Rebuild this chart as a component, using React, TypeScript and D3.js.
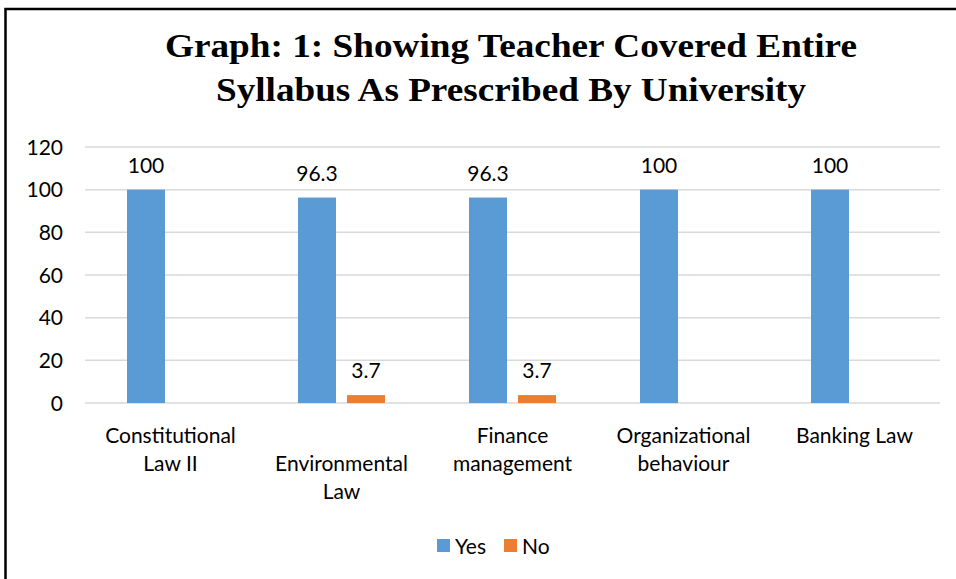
import React from "react";
import * as d3 from "d3";

const categories = [
  ["Constitutional", "Law II"],
  ["", "Environmental", "Law"],
  ["Finance", "management"],
  ["Organizational", "behaviour"],
  ["Banking Law"],
];
const categoryKeys = ["Constitutional Law II", "Environmental Law", "Finance management", "Organizational behaviour", "Banking Law"];
const yesValues = [100, 96.3, 96.3, 100, 100];
const noValues = [null, 3.7, 3.7, null, null];
const seriesNames = ["Yes", "No"];
const seriesColors = ["#5b9bd5", "#ed7d31"];
const yTicks = [0, 20, 40, 60, 80, 100, 120];
const titleLines = ["Graph: 1: Showing Teacher Covered Entire", "Syllabus As Prescribed By University"];

const W = 956;
const H = 579;
const plot = { left: 85, right: 940, top: 147, bottom: 403 };
const font = "Lato, 'Open Sans', sans-serif";
const fs = 21;

export default function App() {
  const x = d3.scaleBand<string>().domain(categoryKeys).range([plot.left, plot.right]);
  const y = d3.scaleLinear().domain([0, 120]).range([plot.bottom, plot.top]);
  const barW = 38;
  const gap = 11;
  const groupW = barW * 2 + gap;

  return (
    <svg width={W} height={H} style={{ position: "absolute", left: 0, top: 0, background: "#fff" }}>
      <rect x={0} y={0} width={W} height={H} fill="#fff" />
      <rect x={5.5} y={9} width={1100} height={1000} fill="none" stroke="#000" strokeWidth={2.5} />
      {titleLines.map((t, i) => (
        <text
          key={i}
          x={511}
          y={57 + i * 44}
          textAnchor="middle"
          fontFamily="'Liberation Serif', 'Times New Roman', serif"
          fontWeight="bold"
          fontSize={34}
          textLength={i === 0 ? 692 : 590}
          lengthAdjust="spacingAndGlyphs"
          fill="#000"
        >
          {t}
        </text>
      ))}
      {yTicks.map((t) => (
        <g key={t}>
          <line x1={plot.left} x2={plot.right} y1={y(t)} y2={y(t)} stroke="#d9d9d9" strokeWidth={1.5} />
          <text x={63} y={y(t) + 7.5} textAnchor="end" fontFamily={font} fontSize={fs} fill="#000">
            {t}
          </text>
        </g>
      ))}
      {categoryKeys.map((c, i) => {
        const cx = (x(c) as number) + x.bandwidth() / 2;
        const x0 = cx - groupW / 2;
        const vals = [yesValues[i], noValues[i]];
        return (
          <g key={c}>
            {vals.map((v, s) =>
              v == null ? null : (
                <g key={s}>
                  <rect
                    x={x0 + s * (barW + gap)}
                    y={y(v)}
                    width={barW}
                    height={y(0) - y(v)}
                    fill={seriesColors[s]}
                  />
                  <text
                    x={x0 + s * (barW + gap) + barW / 2}
                    y={y(v) - 17}
                    textAnchor="middle"
                    fontFamily={font}
                    fontSize={fs}
                    fill="#000"
                  >
                    {v}
                  </text>
                </g>
              )
            )}
            {categories[i].map((ln, j) => (
              <text key={j} x={cx} y={443 + j * 28} textAnchor="middle" fontFamily={font} fontSize={fs} fill="#000">
                {ln}
              </text>
            ))}
          </g>
        );
      })}
      {seriesNames.map((n, i) => {
        const lx = i === 0 ? 437 : 504;
        return (
          <g key={n}>
            <rect x={lx} y={539} width={13} height={13} fill={seriesColors[i]} />
            <text x={lx + 18} y={554} fontFamily={font} fontSize={fs} fill="#000">
              {n}
            </text>
          </g>
        );
      })}
    </svg>
  );
}
